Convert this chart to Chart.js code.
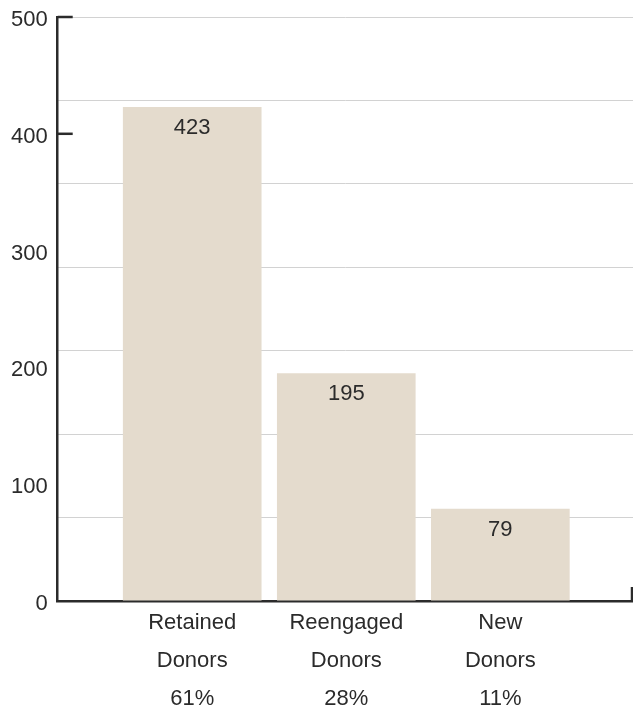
<!DOCTYPE html>
<html>
<head>
<meta charset="utf-8">
<script src="https://cdn.jsdelivr.net/npm/chart.js@4"></script>
<style>
  html, body { margin: 0; padding: 0; background: #fff; }
  #wrap { width: 633px; height: 711px; position: relative; }
</style>
</head>
<body>
<div id="wrap"><canvas id="donorChart"></canvas></div>
<script>
const categories = [["Retained", "Donors"], ["Reengaged", "Donors"], ["New", "Donors"]];
const shares = ["61%", "28%", "11%"];
const donors = [423, 195, 79];
const yTicks = [0, 100, 200, 300, 400, 500];
const gridDivisions = 7;
const markedTicks = [400, 500];

const ink = "#2b2b2b";
const fam = "'Liberation Sans', Arial, sans-serif";

// value labels inside the bars, little inward tick marks, right end cap
const extras = {
  id: "extras",
  afterDatasetsDraw(chart) {
    const ctx = chart.ctx;
    const meta = chart.getDatasetMeta(0);
    ctx.save();
    ctx.fillStyle = ink;
    ctx.font = "22px " + fam;
    ctx.textAlign = "center";
    ctx.textBaseline = "middle";
    meta.data.forEach((bar, i) => {
      ctx.fillText(donors[i], bar.x, bar.y + 21);
    });
    ctx.restore();
  },
  afterDraw(chart) {
    const ctx = chart.ctx;
    const y = chart.scales.y;
    const area = chart.chartArea;
    ctx.save();
    ctx.strokeStyle = ink;
    ctx.lineWidth = 2.5;
    markedTicks.forEach(v => {
      const py = y.getPixelForValue(v);
      ctx.beginPath();
      ctx.moveTo(area.left, py);
      ctx.lineTo(area.left + 15, py);
      ctx.stroke();
    });
    ctx.beginPath();
    ctx.moveTo(area.right - 1, area.bottom);
    ctx.lineTo(area.right - 1, area.bottom - 14);
    ctx.stroke();
    ctx.restore();
  }
};

new Chart(document.getElementById("donorChart"), {
  type: "bar",
  data: {
    datasets: [{
      data: donors.map((v, i) => ({ x: i + 1, y: v })),
      backgroundColor: "#e4dbcd",
      barPercentage: 0.9,
      categoryPercentage: 1
    }]
  },
  options: {
    responsive: true,
    maintainAspectRatio: false,
    animation: false,
    layout: { padding: { left: 1, right: 0, top: 17, bottom: 0 } },
    plugins: { legend: { display: false }, tooltip: { enabled: false } },
    scales: {
      x: {
        type: "linear",
        offset: false,
        min: 0.127,
        max: 3.861,
        afterBuildTicks: s => { s.ticks = categories.map((c, i) => ({ value: i + 1 })); },
        afterFit: s => { s.height = 110; },
        ticks: {
          color: ink,
          font: { family: fam, size: 22, lineHeight: 1.727 },
          padding: 3,
          maxRotation: 0,
          autoSkip: false,
          callback: (v, i) => [...categories[i], shares[i]]
        },
        grid: { display: false, drawTicks: false },
        border: { display: true, color: ink, width: 2.5 }
      },
      y: {
        min: 0,
        max: 500,
        afterBuildTicks: s => { s.ticks = yTicks.map(v => ({ value: v })); },
        afterFit: s => { s.paddingTop = 0; s.paddingBottom = 0; },
        ticks: { color: ink, font: { family: fam, size: 22 }, padding: 10, labelOffset: 3 },
        grid: { drawOnChartArea: false, drawTicks: false },
        border: { display: true, color: ink, width: 2.5 }
      },
      grid7: {
        position: "right",
        min: 0,
        max: 500,
        afterBuildTicks: s => {
          s.ticks = [];
          for (let i = 0; i <= gridDivisions; i++) s.ticks.push({ value: 500 * i / gridDivisions });
        },
        afterFit: s => { s.paddingTop = 0; s.paddingBottom = 0; },
        ticks: { display: false },
        grid: {
          drawTicks: false,
          color: ctx => ctx.index === 0 ? "rgba(0,0,0,0)" : "#d2d2d2",
          lineWidth: 1
        },
        border: { display: false }
      }
    }
  },
  plugins: [extras]
});
</script>
</body>
</html>
